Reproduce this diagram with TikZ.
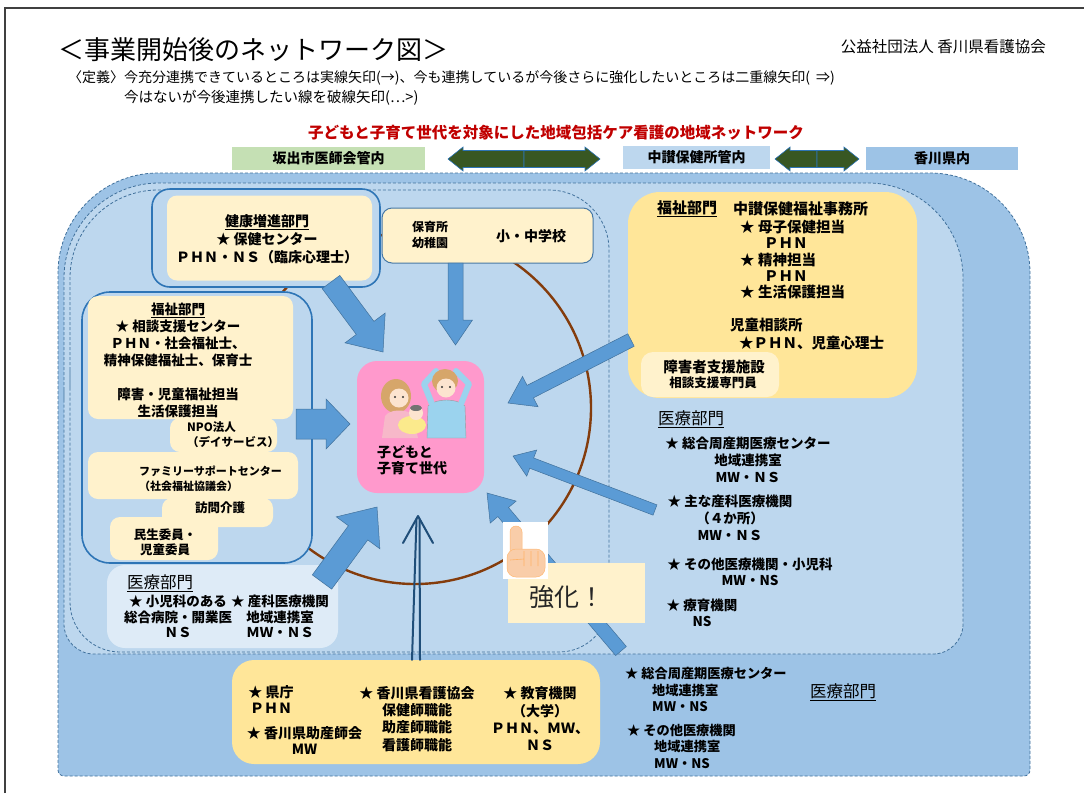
\documentclass[tikz,border=0pt]{standalone}
\usepackage{fontspec}
\setmainfont{Noto Sans CJK JP}
\usetikzlibrary{calc}

\definecolor{kagawablue}{HTML}{9DC3E6}
\definecolor{chusanblue}{HTML}{BDD7EE}
\definecolor{paleblue}{HTML}{DEEBF7}
\definecolor{zoneline}{HTML}{41719C}
\definecolor{grpblue}{HTML}{2E75B6}
\definecolor{creamy}{HTML}{FFF2CC}
\definecolor{goldish}{HTML}{FFE699}
\definecolor{arrowblue}{HTML}{5B9BD5}
\definecolor{arrowedge}{HTML}{41719C}
\definecolor{dblnavy}{HTML}{1F4E79}
\definecolor{hdrgreen}{HTML}{385723}
\definecolor{ringbrown}{HTML}{843C0C}
\definecolor{kidspink}{HTML}{FF99CC}
\definecolor{sakaidegreen}{HTML}{C5E0B4}
\definecolor{titlered}{HTML}{C00000}
\definecolor{skin}{HTML}{FCE4CF}
\definecolor{peach}{HTML}{F9CDA9}
\definecolor{hairbrown}{HTML}{D6A66A}
\definecolor{shirtblue}{HTML}{9BD3EE}
\definecolor{topink}{HTML}{F7B8C9}
\definecolor{blanket}{HTML}{FBEA8C}

\newcommand\fsz[2]{\fontsize{#1}{#2}\selectfont}

% block arrow: [style]{tail}{tip}{shaft half width}{head half width}{head length}
\newcommand\blockarrow[6][]{%
  \coordinate (hb) at ($(#3)!#6!(#2)$);
  \draw[bigarrow,#1] ($(#2)!#4!90:(#3)$) -- ($(hb)!#4!-90:(#2)$) -- ($(hb)!#5!-90:(#2)$)
    -- (#3) -- ($(hb)!#5!90:(#2)$) -- ($(hb)!#4!90:(#2)$) -- ($(#2)!#4!-90:(#3)$) -- cycle;}

\tikzset{
  zone/.style={draw=zoneline, dash pattern=on 3pt off 2pt, line width=0.8pt},
  grpbox/.style={draw=grpblue, line width=1.6pt, fill=chusanblue, inner sep=0pt},
  creambox/.style={fill=creamy, rounded corners=10pt, inner sep=0pt},
  goldbox/.style={fill=goldish, inner sep=0pt},
  lbl/.style={font=\bfseries\fsz{13.5}{17}, align=center, inner sep=0pt},
  heading/.style={font=\fsz{16.5}{19}, inner sep=0pt, anchor=west},
  hdrbox/.style={font=\bfseries\fsz{14}{16}, inner sep=0pt, minimum height=23pt},
  bigarrow/.style={fill=arrowblue, draw=arrowedge, line width=0.5pt},
  hdrarrow/.style={fill=hdrgreen, draw=grpblue, line width=0.6pt},
  dblline/.style={draw=dblnavy, line width=2pt, line cap=round, line join=round},
}

\begin{document}
\begin{tikzpicture}[x=1pt, y=-1pt]
  \useasboundingbox (0,0) rectangle (1084,793);
  \draw[line width=1.2pt, black!75] (5,793) -- (5,8) -- (1084,8);

  % titles
  \node[anchor=west, font=\fsz{26}{30}, inner sep=0pt] (title) at (58,50) {＜事業開始後のネットワーク図＞};
  \node[anchor=east, font=\fsz{15.5}{18}, inner sep=0pt] (org) at (1046,47) {公益社団法人 香川県看護協会};
  \node[anchor=west, font=\fsz{14}{17}, inner sep=0pt] (def1) at (68,78)
    {〈定義〉今充分連携できているところは実線矢印(→)、今も連携しているが今後さらに強化したいところは二重線矢印(\ \ ⇒)};
  \node[anchor=west, font=\fsz{14.5}{17}, inner sep=0pt] (def2) at (124,98) {今はないが今後連携したい線を破線矢印(…>)};
  \node[font=\bfseries\fsz{15.5}{18}, text=titlered, inner sep=0pt] (theme) at (556,133)
    {子どもと子育て世代を対象にした地域包括ケア看護の地域ネットワーク};

  % area labels
  \node[hdrbox, fill=sakaidegreen, minimum width=193pt] (sakaide) at (328.5,158.5) {坂出市医師会管内};
  \node[hdrbox, fill=chusanblue, minimum width=147pt] (chusan) at (696.5,157.5) {中讃保健所管内};
  \node[hdrbox, fill=kagawablue, minimum width=152pt] (kagawa) at (942,158.5) {香川県内};
  \coordinate (hdrAmid) at (524,159);
  \coordinate (hdrAl) at (448,159);
  \coordinate (hdrAr) at (600,159);
  \coordinate (hdrBmid) at (817,159);
  \coordinate (hdrBl) at (775,159);
  \coordinate (hdrBr) at (859,159);
  \blockarrow[hdrarrow]{hdrAmid}{hdrAl}{8.5pt}{12pt}{15pt}
  \blockarrow[hdrarrow]{hdrAmid}{hdrAr}{8.5pt}{12pt}{15pt}
  \blockarrow[hdrarrow]{hdrBmid}{hdrBl}{8.5pt}{12pt}{15pt}
  \blockarrow[hdrarrow]{hdrBmid}{hdrBr}{8.5pt}{12pt}{15pt}

  % zones
  \draw[zone, fill=kagawablue] (58,480) [rounded corners=100pt] |- (540,173) -| (1030,480)
    [rounded corners=6pt] |- (540,776) -| (58,480) -- cycle;
  \draw[zone, fill=chusanblue] (64,420) [rounded corners=95pt] |- (510,183) -| (963,420)
    [rounded corners=30pt] |- (510,654) -| (64,420) -- cycle;
  \draw[zone, fill=chusanblue] (70,420) [rounded corners=88pt] |- (340,190)
    [rounded corners=60pt] -| (609,420) [rounded corners=50pt] |- (340,652) -| (70,420) -- cycle;

  \draw[ringbrown, line width=2.4pt] (415,408) circle (176);

  % boxes
  \node[grpbox, rounded corners=18pt, minimum width=228pt, minimum height=98pt] (kenkoGrp) at (266,238) {};
  \node[creambox, minimum width=205pt, minimum height=85pt] (kenkoBox) at (269.5,238) {};
  \node[creambox, draw=grpblue!70!gray, line width=1pt, minimum width=211pt, minimum height=55pt] (hoikuBox) at (487.5,235.5) {};

  \node[grpbox, rounded corners=28pt, minimum width=230pt, minimum height=271pt] (fukuGrp) at (197,427.5) {};
  \node[creambox, minimum width=205pt, minimum height=123pt] (fukuBox) at (190.5,357.5) {};
  \node[creambox, minimum width=107pt, minimum height=34pt] (npoBox) at (223.5,435) {};
  \node[creambox, minimum width=210pt, minimum height=47pt] (famBox) at (193,475.5) {};
  \node[creambox, minimum width=111pt, minimum height=29pt] (homonBox) at (217.5,512.5) {};
  \node[creambox, minimum width=108pt, minimum height=43pt] (minseiBox) at (164,538.5) {};

  \node[fill=paleblue, rounded corners=18pt, minimum width=231pt, minimum height=83pt] (medLBox) at (222.5,606.5) {};

  \node[goldbox, rounded corners=32pt, minimum width=289pt, minimum height=206pt] (fukuRBox) at (772.5,295) {};
  \node[creambox, rounded corners=12pt, minimum width=138pt, minimum height=45pt] (shogaiBox) at (710,374.5) {};

  \node[goldbox, rounded corners=22pt, minimum width=368pt, minimum height=104pt] (bottomBox) at (416,712) {};

  \node[fill=kidspink, rounded corners=20pt, minimum width=127pt, minimum height=132pt] (kidsBox) at (420.5,427) {};

  % family picture
  \fill[shirtblue, draw=black!40, line width=0.4pt] (427,438) -- (428,406)
    .. controls (436,398) and (457,398) .. (465,406) -- (466,438) -- cycle;
  \draw[shirtblue, line width=6pt, line cap=round, line join=round] (432,404) -- (424,384) -- (436,371);
  \draw[shirtblue, line width=6pt, line cap=round, line join=round] (461,404) -- (469,384) -- (456,371);
  \fill[hairbrown] (445,381) ellipse (13 and 12);
  \fill[skin] (446,388) circle (9.5);
  \fill[hairbrown] (396,396) ellipse (15 and 17);
  \fill[skin] (399,398) circle (9.5);
  \fill[topink] (382,438) -- (385,416) .. controls (390,409) and (405,409) .. (412,414) -- (418,438) -- cycle;
  \fill[blanket] (412,425) ellipse (14 and 9);
  \fill[skin] (416,413) circle (7);
  \fill[black!55] (416,408) ellipse (6 and 3);
  \fill[black!80] (395,397) circle (1.1) (403,397) circle (1.1) (442,387) circle (1.1) (450,387) circle (1.1);

  % arrows into the center
  \coordinate (kenkoOut) at (331,282);
  \coordinate (kidsNW) at (383,352);
  \coordinate (hoikuOut) at (455.5,263);
  \coordinate (kidsN) at (455.5,345);
  \coordinate (fukuOut) at (296,424);
  \coordinate (kidsW) at (350,424);
  \coordinate (medLOut) at (322,582);
  \coordinate (kidsSW) at (377,507);
  \coordinate (fukuROut) at (631,340);
  \coordinate (kidsE) at (508,403);
  \coordinate (medROut) at (655,510);
  \coordinate (kidsESE) at (513,456);
  \coordinate (kagawaOut) at (621,651);
  \coordinate (kidsSE) at (487,493);
  \blockarrow{kenkoOut}{kidsNW}{11pt}{25pt}{30pt}
  \blockarrow{hoikuOut}{kidsN}{7.5pt}{17pt}{25pt}
  \blockarrow{fukuOut}{kidsW}{15pt}{25pt}{24pt}
  \blockarrow{medLOut}{kidsSW}{12pt}{27pt}{32pt}
  \blockarrow{fukuROut}{kidsE}{7pt}{17pt}{25pt}
  \blockarrow{medROut}{kidsESE}{5.5pt}{14pt}{20pt}
  \blockarrow{kagawaOut}{kidsSE}{7pt}{17pt}{25pt}

  % double line arrow from the bottom box
  \coordinate (dblTip) at (418,516);
  \draw[dblline] ($(bottomBox.north)+(-4,0)$) -- ($(dblTip)+(-1.5,3)$);
  \draw[dblline] ($(bottomBox.north)+(4,0)$) -- ($(dblTip)+(1.5,3)$);
  \draw[dblline] ($(dblTip)+(-15,27)$) -- (dblTip) -- ($(dblTip)+(15,27)$);

  % callout
  \node[fill=creamy, minimum width=137pt, minimum height=60pt, inner sep=0pt] (kyokaBox) at (576.5,593) {};
  \node[font=\fsz{25}{28}, text=black!85, inner sep=0pt] (kyoka) at (567,597) {強化！};
  \node[fill=white, minimum width=45pt, minimum height=57pt, inner sep=0pt] (handBox) at (525.5,550.5) {};
  \fill[peach, draw=orange!55, line width=0.5pt, rounded corners=6pt] (510,556) rectangle (522,526);
  \fill[peach, draw=orange!55, line width=0.5pt, rounded corners=9pt] (507,549) rectangle (545,577);
  \draw[orange!60, line width=0.6pt] (510,560) -- (524,559) (524,551) -- (524,566) (531,551) -- (531,566) (538,551) -- (538,566);

  % text in the boxes
  \node[lbl, font=\bfseries\fsz{14}{18}] (kenko) at (267,239) {\underline{健康増進部門}\\★ 保健センター\\ＰＨＮ・ＮＳ（臨床心理士）};
  \node[lbl, font=\bfseries\fsz{12}{15.5}] (hoiku) at (430,235) {保育所\\幼稚園};
  \node[lbl, font=\bfseries\fsz{14}{16}] (school) at (531,236) {小・中学校};

  \node[lbl] (fukuL) at (178,360) {\underline{福祉部門}\\★ 相談支援センター\\ＰＨＮ・社会福祉士、\\精神保健福祉士、保育士\\[17pt]障害・児童福祉担当\\生活保護担当};
  \node[lbl, align=left, anchor=west, font=\bfseries\fsz{11.5}{15}] (npo) at (187,434.5) {NPO法人\\（デイサービス）};
  \node[lbl, align=left, anchor=west, font=\bfseries\fsz{11}{15}] (family) at (139,478.5) {ファミリーサポートセンター\\（社会福祉協議会）};
  \node[lbl, font=\bfseries\fsz{12.5}{15}] (homon) at (220,508) {訪問介護};
  \node[lbl, font=\bfseries\fsz{12.5}{15}] (minsei) at (165,542.5) {民生委員・\\児童委員};

  \node[heading] (medLhead) at (127,583) {\underline{医療部門}};
  \node[lbl, font=\bfseries\fsz{13.5}{15.5}] (medL1) at (178,616.5) {★ 小児科のある\\総合病院・開業医\\ＮＳ};
  \node[lbl, font=\bfseries\fsz{13.5}{15.5}] (medL2) at (280,616.5) {★ 産科医療機関\\地域連携室\\ＭＷ・ＮＳ};

  \node[lbl, align=left, anchor=west, font=\bfseries\fsz{14}{16}] (kids) at (377,460) {子どもと\\子育て世代};

  \node[lbl, anchor=west, font=\bfseries\fsz{15}{17}] (fukuR) at (657,209) {\underline{福祉部門}};
  \node[lbl, anchor=west, font=\bfseries\fsz{15}{17}] (chusanOffice) at (733,209) {中讃保健福祉事務所};
  \node[lbl, align=left, anchor=west, font=\bfseries\fsz{14.5}{16.3}] (fukuRlist) at (740,259.5)
    {★ 母子保健担当\\\hspace*{24pt}ＰＨＮ\\★ 精神担当\\\hspace*{24pt}ＰＨＮ\\★ 生活保護担当};
  \node[lbl, anchor=west, font=\bfseries\fsz{14.5}{16}] (jisou) at (730,325) {児童相談所};
  \node[lbl, anchor=west, font=\bfseries\fsz{14.5}{16}] (jisouStaff) at (739,343) {★ＰＨＮ、児童心理士};
  \node[lbl, font=\bfseries\fsz{14.5}{16}] (shogai) at (714,367) {障害者支援施設};
  \node[lbl, font=\bfseries\fsz{12.5}{15}] (shogaiStaff) at (713,383) {相談支援専門員};

  \node[heading] (medRhead) at (658,419) {\underline{医療部門}};
  \node[lbl] (medR1) at (748,460) {★ 総合周産期医療センター\\地域連携室\\MW・ＮＳ};
  \node[lbl] (medR2) at (730,517.5) {★ 主な産科医療機関\\（４か所）\\MW・ＮＳ};
  \node[lbl, font=\bfseries\fsz{13.5}{16}] (medR3) at (750,572) {★ その他医療機関・小児科\\MW・NS};
  \node[lbl, font=\bfseries\fsz{13.5}{16}] (medR4) at (702,613) {★ 療育機関\\NS};

  \node[lbl, font=\bfseries\fsz{14}{16}] (kencho) at (271,700) {★ 県庁\\ＰＨＮ};
  \node[lbl, font=\bfseries\fsz{14}{16}] (josan) at (304.5,740) {★ 香川県助産師会\\MW};
  \node[lbl, font=\bfseries\fsz{14}{17.3}] (kango) at (417,719) {★ 香川県看護協会\\保健師職能\\助産師職能\\看護師職能};
  \node[lbl, font=\bfseries\fsz{14}{17.3}] (kyoiku) at (540,719) {★ 教育機関\\（大学）\\ＰＨＮ、ＭＷ、\\ＮＳ};

  \node[lbl, align=left, anchor=west, font=\bfseries\fsz{13.2}{16.5}] (medB1) at (625,689.5)
    {★ 総合周産期医療センター\\\hspace*{27pt}地域連携室\\\hspace*{27pt}MW・NS};
  \node[lbl, align=left, anchor=west, font=\bfseries\fsz{13.2}{16.5}] (medB2) at (627,746)
    {★ その他医療機関\\\hspace*{27pt}地域連携室\\\hspace*{27pt}MW・NS};
  \node[heading] (medBhead) at (810,692) {\underline{医療部門}};
\end{tikzpicture}
\end{document}
